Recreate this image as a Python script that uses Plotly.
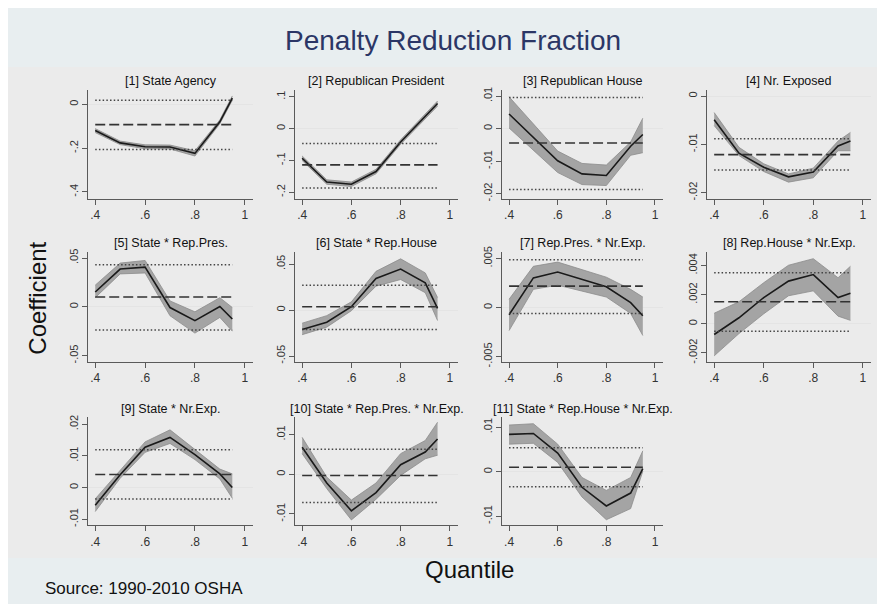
import plotly.graph_objects as go

# ---------------- data ----------------
quantiles = [0.4, 0.5, 0.6, 0.7, 0.8, 0.9, 0.95]

panel_titles = [
    "[1] State Agency", "[2] Republican President", "[3] Republican House", "[4] Nr. Exposed",
    "[5] State * Rep.Pres.", "[6] State * Rep.House", "[7] Rep.Pres. * Nr.Exp.", "[8] Rep.House * Nr.Exp.",
    "[9] State * Nr.Exp.", "[10] State * Rep.Pres. * Nr.Exp.", "[11] State * Rep.House * Nr.Exp.",
]

est = [
    [-0.120, -0.176, -0.194, -0.195, -0.224, -0.080, 0.028],
    [-0.093, -0.168, -0.175, -0.135, -0.042, 0.040, 0.079],
    [0.0045, -0.0028, -0.0099, -0.0139, -0.0144, -0.0054, -0.0018],
    [-0.0049, -0.0118, -0.0147, -0.0167, -0.0157, -0.0103, -0.0093],
    [0.0152, 0.0387, 0.0407, -0.0007, -0.0141, 0.0003, -0.0125],
    [-0.0211, -0.0132, 0.0036, 0.0343, 0.0446, 0.0296, 0.0018],
    [-0.00074, 0.00302, 0.00362, 0.00285, 0.00211, 0.0005, -0.00084],
    [-0.00074, 0.00041, 0.0018, 0.00293, 0.00338, 0.0018, 0.0021],
    [-0.0056, 0.0040, 0.0127, 0.0158, 0.0104, 0.0043, 0.0000],
    [0.0068, -0.0022, -0.0092, -0.0046, 0.0024, 0.0056, 0.0089],
    [0.0084, 0.0086, 0.0042, -0.0035, -0.0077, -0.0048, 0.0007],
]

ci_low = [
    [-0.129, -0.184, -0.203, -0.204, -0.236, -0.089, 0.018],
    [-0.100, -0.175, -0.182, -0.142, -0.049, 0.033, 0.071],
    [0.0002, -0.0066, -0.0135, -0.0172, -0.0175, -0.0082, -0.0074],
    [-0.0061, -0.0123, -0.0156, -0.0178, -0.0169, -0.0113, -0.0113],
    [0.0094, 0.0337, 0.0347, -0.0091, -0.0269, -0.0108, -0.0249],
    [-0.0268, -0.0186, -0.0007, 0.0260, 0.0332, 0.0189, -0.0114],
    [-0.00235, 0.00185, 0.00228, 0.00168, 0.00107, -0.0006, -0.00285],
    [-0.00221, -0.00068, 0.00068, 0.00192, 0.00226, 0.00052, 0.00023],
    [-0.0076, 0.0029, 0.0111, 0.0139, 0.0088, 0.0027, -0.0034],
    [0.0052, -0.0036, -0.0115, -0.0063, -0.0003, 0.0039, 0.0048],
    [0.0062, 0.0064, 0.0021, -0.0057, -0.0108, -0.0083, 0.0001],
]

ci_high = [
    [-0.111, -0.168, -0.185, -0.186, -0.212, -0.071, 0.038],
    [-0.086, -0.161, -0.168, -0.128, -0.035, 0.047, 0.087],
    [0.0098, 0.0015, -0.0069, -0.0107, -0.0112, -0.0041, 0.0032],
    [-0.0034, -0.0106, -0.0140, -0.0161, -0.0149, -0.0093, -0.0075],
    [0.0222, 0.0448, 0.0475, 0.0061, -0.0051, 0.0094, -0.0007],
    [-0.0143, -0.0061, 0.0089, 0.0421, 0.0557, 0.0404, 0.0136],
    [0.00084, 0.0042, 0.00463, 0.00386, 0.00309, 0.00185, 0.00107],
    [0.00072, 0.00151, 0.00282, 0.00402, 0.00447, 0.00316, 0.00395],
    [-0.0036, 0.0053, 0.0144, 0.0182, 0.0121, 0.0058, 0.0043],
    [0.0093, -0.0007, -0.0065, -0.0022, 0.0052, 0.0085, 0.0131],
    [0.0105, 0.0108, 0.0062, -0.0013, -0.0042, -0.0013, 0.0047],
]

ols_coef = [-0.093, -0.114, -0.0044, -0.0121, 0.0101, 0.0036, 0.00218, 0.00151, 0.0041, -0.0003, 0.0010]
ols_low = [-0.206, -0.187, -0.0187, -0.0153, -0.0236, -0.0211, -0.0006, -0.00052, -0.0036, -0.0071, -0.0034]
ols_high = [0.018, -0.047, 0.0096, -0.0088, 0.0431, 0.0271, 0.00487, 0.0035, 0.0119, 0.0063, 0.0054]

y_tick_vals = [
    [0, -0.2, -0.4], [0.1, 0, -0.1, -0.2], [0.01, 0, -0.01, -0.02], [0, -0.01, -0.02],
    [0.05, 0, -0.05], [0.05, 0, -0.05], [0.005, 0, -0.005], [0.004, 0.002, 0, -0.002],
    [0.02, 0.01, 0, -0.01], [0.01, 0, -0.01], [0.01, 0, -0.01],
]
y_tick_text = [
    ["0", "-.2", "-.4"], [".1", "0", "-.1", "-.2"], [".01", "0", "-.01", "-.02"], ["0", "-.01", "-.02"],
    [".05", "0", "-.05"], [".05", "0", "-.05"], [".005", "0", "-.005"], [".004", ".002", "0", "-.002"],
    [".02", ".01", "0", "-.01"], [".01", "0", "-.01"], [".01", "0", "-.01"],
]
y_ranges = [
    [-0.43, 0.067], [-0.22, 0.123], [-0.0215, 0.012], [-0.0212, 0.00136],
    [-0.056, 0.0566], [-0.056, 0.0636], [-0.0055, 0.0057], [-0.0026, 0.00496],
    [-0.012, 0.0221], [-0.0129, 0.0143], [-0.0121, 0.0122],
]
x_tick_vals = [0.4, 0.6, 0.8, 1.0]
x_tick_text = [".4", ".6", ".8", "1"]

# ---------------- layout geometry (pixels) ----------------
W, H = 885, 604
col_px = [(80, 245), (287, 450), (494, 655), (699, 863)]
row_px = [(78, 189), (243, 355), (412, 522)]

fig = go.Figure()
layout_axes = {}
annotations = []

FONT = "Liberation Sans, Arial, sans-serif"
axis_color = "#5a5a5a"
x_tick_font = dict(family=FONT, size=12, color="#333333")
y_tick_font = dict(family=FONT, size=11, color="#333333")

for i in range(11):
    r, c = divmod(i, 4)
    n = "" if i == 0 else str(i + 1)
    xa, ya = "x" + n, "y" + n
    x0, x1 = col_px[c]
    y0, y1 = row_px[r]

    # CI band
    fig.add_trace(go.Scatter(x=quantiles, y=ci_low[i], xaxis=xa, yaxis=ya, mode="lines",
                             line=dict(color="#8c8c8c", width=0.8), hoverinfo="skip", showlegend=False))
    fig.add_trace(go.Scatter(x=quantiles, y=ci_high[i], xaxis=xa, yaxis=ya, mode="lines",
                             fill="tonexty", fillcolor="#a4a4a4",
                             line=dict(color="#8c8c8c", width=0.8), hoverinfo="skip", showlegend=False))
    # estimate
    fig.add_trace(go.Scatter(x=quantiles, y=est[i], xaxis=xa, yaxis=ya, mode="lines",
                             line=dict(color="#1a1a1a", width=1.6), hoverinfo="skip", showlegend=False))
    # OLS coefficient and CI
    xs = [quantiles[0], quantiles[-1]]
    fig.add_trace(go.Scatter(x=xs, y=[ols_coef[i]] * 2, xaxis=xa, yaxis=ya, mode="lines",
                             line=dict(color="#333333", width=1.6, dash="10px,4px"),
                             hoverinfo="skip", showlegend=False))
    for v in (ols_low[i], ols_high[i]):
        fig.add_trace(go.Scatter(x=xs, y=[v, v], xaxis=xa, yaxis=ya, mode="lines",
                                 line=dict(color="#444444", width=1.5, dash="1.5px,2.2px"),
                                 hoverinfo="skip", showlegend=False))

    layout_axes["xaxis" + n] = dict(
        domain=[x0 / W, x1 / W], anchor=ya, range=[0.371, 1.033],
        tickvals=x_tick_vals, ticktext=x_tick_text, ticks="outside", ticklen=5,
        tickcolor=axis_color, showline=True, linecolor=axis_color, linewidth=1,
        showgrid=False, zeroline=False, tickfont=x_tick_font, fixedrange=True,
    )
    layout_axes["yaxis" + n] = dict(
        domain=[1 - y1 / H, 1 - y0 / H], anchor=xa, range=y_ranges[i],
        tickvals=y_tick_vals[i], ticktext=y_tick_text[i], ticks="outside", ticklen=5,
        tickcolor=axis_color, showline=True, linecolor=axis_color, linewidth=1,
        showgrid=False, zeroline=True, zerolinecolor="#e4e4e4", zerolinewidth=1,
        tickangle=-90, tickfont=y_tick_font, fixedrange=True,
    )
    annotations.append(dict(
        text=panel_titles[i], x=(x0 + x1) / 2 / W, y=1 - (y0 - 9) / H,
        xref="paper", yref="paper", showarrow=False, xanchor="center", yanchor="middle",
        font=dict(family=FONT, size=12.5, color="#111111"),
    ))

annotations += [
    dict(text="Penalty Reduction Fraction", x=445 / W, y=1 - 28 / H, xref="paper", yref="paper",
         showarrow=False, xanchor="center", yanchor="middle",
         font=dict(family=FONT, size=28, color="#2b3666")),
    dict(text="Coefficient", x=30 / W, y=1 - 291 / H, xref="paper", yref="paper", textangle=-90,
         showarrow=False, xanchor="center", yanchor="middle",
         font=dict(family=FONT, size=24, color="#111111")),
    dict(text="Quantile", x=461 / W, y=1 - 567 / H, xref="paper", yref="paper",
         showarrow=False, xanchor="center", yanchor="middle",
         font=dict(family=FONT, size=24, color="#111111")),
    dict(text="Source: 1990-2010 OSHA", x=35 / W, y=1 - 586 / H, xref="paper", yref="paper",
         showarrow=False, xanchor="left", yanchor="middle",
         font=dict(family=FONT, size=17, color="#111111")),
]

shapes = [
    dict(type="rect", xref="paper", yref="paper", x0=0, x1=1, y0=1 - 555 / H, y1=1 - 55 / H,
         fillcolor="#ebebeb", line=dict(width=0), layer="below"),
]

fig.update_layout(
    width=W, height=H, margin=dict(l=0, r=0, t=0, b=0),
    paper_bgcolor="#e8eef0", plot_bgcolor="#ffffff",
    annotations=annotations, shapes=shapes, **layout_axes,
)

fig.write_html("out.html")
